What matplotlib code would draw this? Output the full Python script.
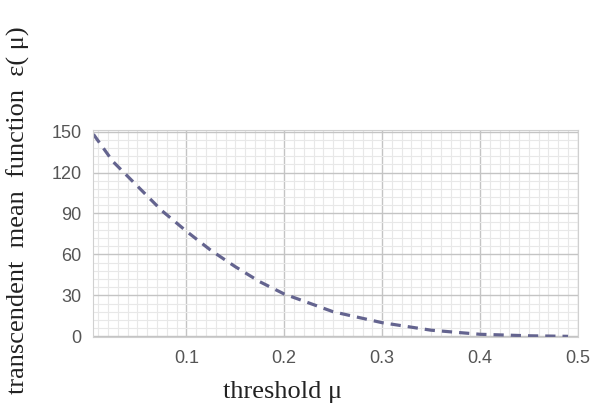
import numpy as np
import matplotlib.pyplot as plt
from matplotlib.ticker import MultipleLocator

# values
mu = [0.005, 0.025, 0.05, 0.075, 0.1, 0.125, 0.15, 0.175, 0.2, 0.25, 0.3, 0.35, 0.4, 0.45, 0.49]
eps = [148, 128, 110, 92, 77, 63, 51, 40, 31, 18, 10, 4.5, 1.5, 0.4, 0.0]

xticks = [0.1, 0.2, 0.3, 0.4, 0.5]
yticks = [0, 30, 60, 90, 120, 150]

fig = plt.figure(figsize=(5.92, 4.12), dpi=100)
ax = fig.add_axes([0.157, 0.182, 0.819, 0.502])

ax.plot(mu, eps, color='#64648f', lw=2.3, dashes=(3.2, 2.2))

ax.set_xlim(0.0045, 0.5)
ax.set_ylim(-0.5, 151)
ax.set_xticks(xticks)
ax.set_yticks(yticks)
ax.xaxis.set_minor_locator(MultipleLocator(0.01))
ax.yaxis.set_minor_locator(MultipleLocator(6))
ax.grid(which='major', color='#c4c4c4', lw=1.0)
ax.grid(which='minor', color='#e8e8e8', lw=0.8)
ax.set_axisbelow(True)
for s in ax.spines.values():
    s.set_color('#d0d0d0')
ax.tick_params(which='both', length=0)
ax.tick_params(axis='y', pad=8, labelsize=13, labelcolor='#555555')
ax.tick_params(axis='x', pad=9, labelsize=13, labelcolor='#555555')
for lab in ax.get_xticklabels() + ax.get_yticklabels():
    lab.set_family('Liberation Sans')

ax.set_xlabel('threshold \u03bc', family='Liberation Serif', fontsize=19, color='#222222')
ax.set_ylabel('transcendent  mean  function  \u03b5( \u03bc)', family='Liberation Serif',
              fontsize=19, color='#222222')
ax.xaxis.set_label_coords(0.392, -0.215)
ax.yaxis.set_label_coords(-0.13, 0.615)

fig.savefig('out.png', dpi=100)
